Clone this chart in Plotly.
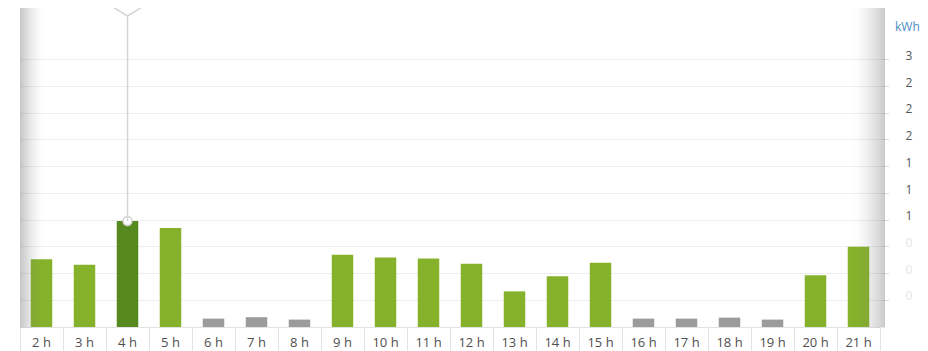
import plotly.graph_objects as go

# ---- data ----
hours = ["2 h", "3 h", "4 h", "5 h", "6 h", "7 h", "8 h", "9 h", "10 h", "11 h",
         "12 h", "13 h", "14 h", "15 h", "16 h", "17 h", "18 h", "19 h", "20 h", "21 h"]
consumption_kwh = [0.76, 0.70, 1.19, 1.11, 0.094, 0.11, 0.083, 0.81, 0.78, 0.77,
                   0.71, 0.40, 0.57, 0.72, 0.094, 0.094, 0.105, 0.083, 0.58, 0.90]
y_tick_vals = [0.3, 0.6, 0.9, 1.2, 1.5, 1.8, 2.1, 2.4, 2.7, 3.0]
# right-hand labels are cut off in the original, only the first character shows
y_tick_labels = ["0", "0", "0", "1", "1", "1", "2", "2", "2", "3"]
unit_label = "kWh"
highlight_index = 2

# ---- styles ----
GREEN = "#86b22b"
DARK_GREEN = "#568a1f"
GREY = "#9b9b9b"
LOW_THRESHOLD = 0.2
Y_MAX = 3.58

W, H = 928, 351
ML, MR, MT, MB = 20, 48, 8, 24
PW = W - ML - MR
PH = H - MT - MB

colors = []
for i, v in enumerate(consumption_kwh):
    if i == highlight_index:
        colors.append(DARK_GREEN)
    elif v < LOW_THRESHOLD:
        colors.append(GREY)
    else:
        colors.append(GREEN)

tick_text = []
for i, t in enumerate(y_tick_labels):
    if i < 3:
        tick_text.append(f"<span style='color:#e6e6e6'>{t}</span>")
    else:
        tick_text.append(t)

fig = go.Figure()
fig.add_trace(go.Bar(
    x=hours, y=consumption_kwh,
    marker=dict(color=colors, line=dict(width=0)),
    hoverinfo="skip",
))

# highlight marker on top of the selected bar
fig.add_trace(go.Scatter(
    x=[hours[highlight_index]], y=[consumption_kwh[highlight_index]],
    mode="markers",
    marker=dict(symbol="circle", size=9, color="white",
                line=dict(color="#cfcfcf", width=1.5)),
    hoverinfo="skip", cliponaxis=False,
))

shapes = []
# vertical tracker line
shapes.append(dict(type="line", xref="x", yref="y",
                   x0=highlight_index, x1=highlight_index,
                   y0=consumption_kwh[highlight_index], y1=Y_MAX,
                   line=dict(color="#d6d6d6", width=1.5), layer="above"))
# top V-shaped pointer
shapes.append(dict(type="path", xref="x", yref="y",
                   xsizemode="pixel", ysizemode="pixel",
                   xanchor=highlight_index, yanchor=Y_MAX,
                   path="M-13,0 L0,-8 L13,0 L13,12 L-13,12 Z",
                   fillcolor="white", line=dict(color="#d6d6d6", width=1.5),
                   layer="above"))


def px_to_paper_x(px):
    return (px - ML) / PW


def py_to_paper_y(py):
    return (H - MB - py) / PH


# left scroll shadow (gradient approximated with thin strips)
n = 24
x_start, x_end = 20.0, 44.0
for k in range(n):
    a = 0.42 * (1 - k / n) ** 1.6
    x0 = x_start + (x_end - x_start) * k / n
    x1 = x_start + (x_end - x_start) * (k + 1) / n
    shapes.append(dict(type="rect", xref="paper", yref="paper",
                       x0=px_to_paper_x(x0), x1=px_to_paper_x(x1),
                       y0=py_to_paper_y(327.5), y1=py_to_paper_y(8),
                       fillcolor=f"rgba(120,120,120,{a:.3f})",
                       line=dict(width=0), layer="above"))
# right scroll shadow
x_start, x_end = 853.0, 885.0
for k in range(n):
    a = 0.40 * ((k + 1) / n) ** 1.6
    x0 = x_start + (x_end - x_start) * k / n
    x1 = x_start + (x_end - x_start) * (k + 1) / n
    shapes.append(dict(type="rect", xref="paper", yref="paper",
                       x0=px_to_paper_x(x0), x1=px_to_paper_x(x1),
                       y0=py_to_paper_y(327.5), y1=py_to_paper_y(8),
                       fillcolor=f"rgba(120,120,120,{a:.3f})",
                       line=dict(width=0), layer="above"))

fig.update_layout(
    width=W, height=H,
    margin=dict(l=ML, r=MR, t=MT, b=MB, pad=0, autoexpand=False),
    paper_bgcolor="white", plot_bgcolor="white",
    showlegend=False,
    bargap=0.5,
    font=dict(family="Open Sans, sans-serif", size=13, color="#555555"),
    shapes=shapes,
    annotations=[dict(text=unit_label, xref="paper", yref="paper",
                      x=px_to_paper_x(893), y=py_to_paper_y(27),
                      xanchor="left", yanchor="middle", showarrow=False,
                      font=dict(size=12, color="#4a8fc4"))],
    xaxis=dict(
        type="category", range=[-0.5, len(hours) - 0.5],
        automargin=False,
        showgrid=False, zeroline=False,
        showline=True, linecolor="#e2e2e2", linewidth=1,
        ticks="outside", tickson="boundaries", ticklen=24,
        tickcolor="#e2e2e2", tickwidth=1,
        ticklabelstandoff=3,
        tickfont=dict(size=13, color="#4f4f4f"),
    ),
    yaxis=dict(
        side="right", range=[0, Y_MAX], automargin=False,
        tickmode="array", tickvals=y_tick_vals, ticktext=tick_text,
        showgrid=True, gridcolor="#ededed", gridwidth=1,
        zeroline=False, showline=False,
        ticks="outside", ticklen=8, tickcolor="#dddddd",
        ticklabelstandoff=14, ticklabelshift=-4,
        tickfont=dict(size=12, color="#555555"),
    ),
)

fig.write_html("out.html")
